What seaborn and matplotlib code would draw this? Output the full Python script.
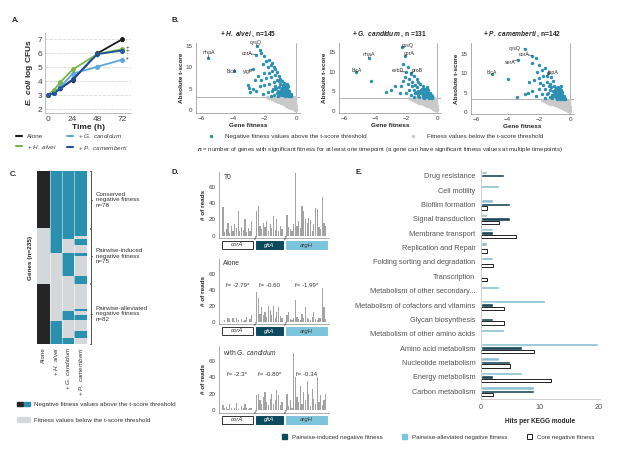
import numpy as np
import pandas as pd
import matplotlib.pyplot as plt
import seaborn as sns
from matplotlib.colors import ListedColormap
from matplotlib.lines import Line2D
from matplotlib.patches import Patch, Rectangle
from matplotlib.legend_handler import HandlerTuple

# ----------------------------- data : A. growth curves -----------------------------
hours = [0, 6, 12, 24, 48, 72]
cfu_alone = [3.05, 3.2, 3.5, 4.1, 6.0, 7.0]
cfu_halvei = [3.05, 3.4, 3.95, 4.85, 5.95, 6.3]
cfu_gcand = [3.05, 3.2, 3.6, 4.55, 5.05, 5.55]
cfu_pcam = [3.05, 3.15, 3.5, 4.15, 5.95, 6.2]
cfu_sd = [0.05, 0.08, 0.1, 0.12, 0.12, 0.1]

# ----------------------------- data : B. volcano-like scatter ----------------------
below_x = [-1.82, -1.61, -1.43, -1.22, -1.01, -0.83, -0.62, -0.41, -0.22, -0.07,
           -1.68, -1.47, -1.26, -1.04, -0.86, -0.64, -0.46, -0.27, -0.11,
           -1.53, -1.33, -1.14, -0.96, -0.74, -0.55, -0.36, -0.16,
           -1.42, -1.21, -1.01, -0.79, -0.61, -0.42, -0.21, -0.06,
           -1.28, -1.08, -0.88, -0.69, -0.48, -0.29, -0.12,
           -1.15, -0.97, -0.78, -0.57, -0.39, -0.19, -0.05,
           -0.93, -0.74, -0.55, -0.36, -0.17, -0.04,
           -0.78, -0.6, -0.41, -0.22, -0.06,
           -0.63, -0.46, -0.29, -0.12, -0.02,
           -0.49, -0.33, -0.18, -0.05,
           -0.36, -0.22, -0.08,
           -0.24, -0.13, -0.03,
           -0.12, -0.04,
           -0.05, -0.01]
below_y = [3.12, 3.05, 3.15, 3.08, 3.13, 3.02, 3.14, 3.07, 3.11, 3.04,
           2.88, 2.82, 2.9, 2.84, 2.79, 2.91, 2.86, 2.81, 2.89,
           2.6, 2.57, 2.64, 2.55, 2.62, 2.58, 2.63, 2.54,
           2.38, 2.33, 2.31, 2.37, 2.29, 2.36, 2.32, 2.4,
           2.12, 2.08, 2.15, 2.05, 2.1, 2.14, 2.07,
           1.88, 1.83, 1.86, 1.8, 1.89, 1.84, 1.9,
           1.62, 1.58, 1.65, 1.56, 1.61, 1.63,
           1.38, 1.33, 1.36, 1.31, 1.37,
           1.12, 1.08, 1.14, 1.06, 1.1,
           0.88, 0.83, 0.86, 0.8,
           0.64, 0.6, 0.58,
           0.45, 0.4, 0.38,
           0.24, 0.2,
           0.1, 0.06]

ha_x = [-5.55, -2.45, -2.55, -3.9, -2.75, -2.3, -2.2, -2.0, -1.9, -1.7, -1.6, -1.5, -1.8, -1.4,
        -2.1, -1.3, -1.2, -1.5, -1.7, -2.0, -2.4, -2.6, -2.2, -1.9, -1.6, -1.3, -1.1, -1.0, -0.9,
        -1.2, -1.4, -1.7, -2.0, -2.3, -2.7, -2.9, -1.0, -0.8, -0.7, -0.9, -1.1, -1.3, -1.5, -1.8,
        -2.1, -0.6, -0.5, -0.7, -0.9, -1.2, -1.0, -0.8, -0.6, -0.45, -1.4, -1.6, -0.55, -0.75,
        -1.05, -0.85, -0.65, -1.15, -0.95, -1.35, -2.5, -3.0, -3.05, -0.35, -0.4, -0.5,
        -0.3, -0.42, -0.52, -0.62, -0.72, -0.82, -0.92, -1.02, -1.12, -0.38, -0.48, -0.58, -0.68,
        -0.78, -0.88, -0.98, -0.55, -0.65, -0.75, -0.85, -0.6, -0.7, -1.25, -1.45, -0.33, -0.45]
ha_y = [12.2, 14.9, 13.0, 9.2, 9.6, 14.0, 13.3, 12.6, 11.5, 11.8, 10.5, 11.0, 10.2, 10.0,
        10.8, 9.6, 9.0, 9.2, 8.6, 8.8, 8.0, 7.2, 7.0, 7.5, 7.8, 8.2, 8.0, 7.4, 6.8,
        7.0, 6.6, 6.2, 6.0, 5.6, 5.0, 4.4, 6.2, 5.9, 5.4, 5.2, 5.5, 5.0, 4.6, 4.2,
        3.8, 4.8, 4.3, 4.0, 4.5, 4.1, 3.8, 3.5, 3.6, 3.4, 3.6, 3.4, 5.0, 6.5,
        6.9, 4.9, 4.4, 4.6, 3.5, 5.6, 4.6, 5.3, 6.0, 3.3, 3.8, 5.6,
        3.3, 3.5, 3.3, 3.8, 3.3, 3.9, 4.0, 4.3, 3.4, 3.6, 4.0, 4.5, 4.7,
        4.2, 3.9, 4.8, 5.3, 5.7, 5.0, 5.6, 6.1, 4.6, 5.3, 4.9, 3.9, 4.6]

gc_x = [-2.25, -2.1, -2.0, -1.7, -4.4, -5.2, -4.23, -2.2, -1.9, -1.7, -1.5, -1.8, -2.1, -1.3,
        -1.2, -1.6, -1.9, -2.3, -2.7, -3.0, -3.3, -2.4, -1.1, -0.9, -1.0, -1.3, -1.5, -1.8, -2.0,
        -0.8, -0.7, -0.9, -1.1, -1.4, -1.7, -0.6, -0.5, -0.7, -0.9, -1.2, -1.5, -0.55, -0.4,
        -0.8, -1.05, -1.25, -0.65, -0.85, -1.4, -1.2, -0.75, -1.6, -2.2, -0.35, -0.45,
        -0.32, -0.44, -0.54, -0.64, -0.74, -0.84, -0.94, -1.04, -1.14, -0.36, -0.5, -0.6, -0.7,
        -0.8, -0.9, -1.0, -0.56, -0.66, -0.78, -0.88, -0.62, -1.3, -1.45, -0.4]
gc_y = [16.2, 14.0, 9.8, 9.6, 13.5, 9.8, 7.5, 12.0, 11.2, 9.4, 8.8, 8.2, 8.6, 8.0,
        7.4, 7.2, 6.8, 6.4, 6.2, 5.3, 4.8, 4.5, 6.8, 6.2, 5.6, 6.0, 5.4, 5.2, 4.6,
        5.2, 4.8, 4.6, 4.9, 4.4, 4.0, 4.2, 3.8, 3.9, 3.6, 3.7, 3.5, 3.4, 3.4,
        4.3, 5.2, 4.2, 4.6, 3.3, 6.6, 5.0, 5.6, 6.4, 7.6, 3.5, 4.6,
        3.3, 3.6, 3.3, 3.7, 3.4, 3.9, 4.1, 4.4, 3.5, 3.7, 4.1, 4.5, 4.3,
        4.0, 3.8, 4.7, 5.4, 5.8, 5.2, 5.6, 6.0, 4.8, 4.4, 4.0]

pc_x = [-2.9, -2.4, -3.3, -5.0, -3.95, -1.5, -2.2, -2.4, -2.0, -1.6, -1.8, -2.1, -1.4, -1.2,
        -1.7, -2.0, -2.3, -2.6, -1.9, -1.5, -1.1, -1.3, -1.0, -0.9, -1.2, -1.6, -2.0, -2.4,
        -2.7, -2.2, -0.8, -0.7, -0.9, -1.1, -1.4, -1.8, -0.6, -0.5, -0.7, -1.0, -1.3, -1.6,
        -0.45, -0.6, -0.85, -1.15, -0.95, -1.35, -0.75, -1.7, -2.9, -3.4, -0.35, -0.5,
        -0.31, -0.43, -0.53, -0.63, -0.73, -0.83, -0.93, -1.03, -1.13, -0.37, -0.49, -0.59, -0.69,
        -0.79, -0.89, -0.99, -0.57, -0.67, -0.77, -0.87, -0.61, -0.71, -1.27, -1.47, -0.41]
pc_y = [16.4, 14.6, 13.6, 9.7, 8.5, 9.4, 14.0, 12.6, 12.2, 11.5, 10.8, 10.4, 10.2, 9.0,
        9.2, 8.8, 8.2, 7.8, 7.4, 7.8, 8.0, 7.2, 6.8, 6.2, 6.4, 6.0, 5.8, 5.4,
        5.0, 4.2, 5.8, 5.2, 5.0, 5.4, 5.0, 4.6, 4.6, 4.0, 4.2, 4.0, 3.8, 3.6,
        3.5, 3.4, 3.5, 4.4, 5.7, 6.7, 6.4, 7.0, 4.5, 3.8, 3.4, 5.2,
        3.4, 3.3, 3.6, 3.3, 3.7, 3.4, 4.2, 4.6, 3.5, 3.8, 4.4, 4.9, 4.6,
        4.3, 3.9, 5.2, 5.6, 6.0, 5.3, 6.1, 6.6, 4.9, 5.6, 4.7, 4.1]

# gene name, point it refers to, label position
genes_ha = [('nhaA', (-5.55, 12.2), (-5.5, 13.5)), ('cysQ', (-2.45, 14.9), (-2.55, 15.9)),
            ('corA', (-2.55, 13.0), (-3.1, 13.3)), ('ldcA', (-3.9, 9.2), (-4.05, 9.1)),
            ('yigP', (-2.75, 9.6), (-3.05, 9.0))]
genes_gc = [('nhaA', (-4.4, 13.5), (-4.4, 14.4)), ('ldcA', (-5.2, 9.8), (-5.2, 10.3)),
            ('cysQ', (-2.25, 16.2), (-1.9, 16.6)), ('corA', (-2.1, 14.0), (-1.8, 14.5)),
            ('exbD', (-2.0, 9.8), (-2.5, 10.3)), ('proB', (-1.7, 9.6), (-1.3, 10.3))]
genes_pc = [('cysQ', (-2.9, 16.4), (-3.55, 16.4)), ('corA', (-2.4, 14.6), (-2.9, 15.0)),
            ('serA', (-3.3, 13.6), (-3.8, 12.9)), ('ldcA', (-5.0, 9.7), (-5.0, 10.3)),
            ('fepA', (-1.5, 9.4), (-1.1, 10.3))]

# ----------------------------- data : C. heatmap -----------------------------------
hm_labels = ['Alone', r'+ $\mathit{H.\ alvei}$', r'+ $\mathit{G.\ candidum}$', r'+ $\mathit{P.\ camemberti}$']
n_genes = 235
group_names = ['Conserved\nnegative fitness\nn=78', 'Pairwise-induced\nnegative fitness\nn=75',
               'Pairwise-alleviated\nnegative fitness\nn=82']
group_sizes = [78, 75, 82]
runs_alone = [(0, 78), (153, 235)]
runs_halvei = [(0, 112), (204, 235)]
runs_gcand = [(0, 93), (112, 142), (190, 203), (227, 235)]
runs_pcam = [(0, 88), (93, 100), (112, 116), (142, 153), (188, 190), (195, 203), (217, 227)]

# ----------------------------- data : D. read counts -------------------------------
d_genes = ['corA', 'gltA', 'argH']
t0_corA = [35, 4, 8, 15, 3, 12, 6, 14, 9, 30, 5, 10, 7, 20, 4, 9, 6, 18]
t0_gltA = [30, 36, 12, 8, 15, 10, 18, 6, 14, 9, 24, 7, 20, 5, 12, 8]
t0_argH = [25, 10, 8, 6, 14, 77, 12, 18, 9, 36, 30, 20, 15, 22, 19, 6, 14, 34, 33, 10, 8, 47, 16, 12]
al_corA = [0, 2, 0, 4, 3, 0, 5, 1, 4, 2, 0, 3, 1, 2, 6, 0, 3, 8]
al_gltA = [37, 30, 10, 18, 8, 12, 6, 20, 15, 9, 20, 5, 12, 18, 7, 4]
al_argH = [8, 12, 3, 2, 4, 28, 6, 3, 2, 10, 4, 18, 5, 3, 2, 6, 12, 3, 2, 5, 4, 42, 18, 3]
gc_corA = [6, 2, 4, 1, 8, 2, 0, 3, 9, 1, 0, 5, 2, 7, 3, 1, 2, 2]
gc_gltA = [18, 20, 12, 8, 16, 22, 10, 6, 14, 20, 8, 12, 24, 18, 6, 10]
gc_argH = [20, 5, 12, 3, 70, 40, 16, 10, 30, 8, 22, 12, 36, 20, 5, 26, 14, 8, 40, 10, 18, 6, 12, 20]
fit_alone = ['f= -2.79*', 'f= -0.60', 'f= -1.99*']
fit_gcand = ['f= -2.3*', 'f= -0.80*', 'f= -0.34']

# ----------------------------- data : E. KEGG modules ------------------------------
modules = ['Drug resistance', 'Cell motility', 'Biofilm formation', 'Signal transduction',
           'Membrane transport', 'Replication and Repair', 'Folding sorting and degradation',
           'Transcription', 'Metabolism of other secondary...', 'Metabolism of cofactors and vitamins',
           'Glycan biosynthesis', 'Metabolism of other amino acids', 'Amino acid metabolism',
           'Nucleotide metabolism', 'Energy metabolism', 'Carbon metabolism']
hits_alleviated = [1, 3, 2, 1, 2, 1, 2, 0, 3, 11, 0, 4, 20, 3, 7, 9]
hits_induced = [4, 0, 5, 5, 2, 0, 0, 0, 0, 2, 2, 0, 7, 5, 2, 9]
hits_core = [0, 0, 1, 3, 6, 1, 2, 1, 0, 4, 4, 0, 9, 5, 12, 2]

# ----------------------------- styling ---------------------------------------------
sns.set_theme(style='white')
plt.rcParams['font.family'] = ['Liberation Sans', 'DejaVu Sans']
plt.rcParams['mathtext.fontset'] = 'custom'
plt.rcParams['mathtext.rm'] = 'Liberation Sans'
plt.rcParams['mathtext.it'] = 'Liberation Sans:italic'
plt.rcParams['mathtext.bf'] = 'Liberation Sans:bold'
plt.rcParams['mathtext.bfit'] = 'Liberation Sans:italic:bold'

BLUE = '#2C8FB4'
GREY = '#C9C9C9'
TEAL = '#2A90AE'
BLACK = '#252525'
HMGREY = '#D5D8DA'
DARK = '#0E4A5F'
LIGHT = '#7CC4DC'
TXT = '#404040'
SP = '#8C8C8C'

W, H = 617, 453
fig = plt.figure(figsize=(6.17, 4.53), dpi=100)


def box(l, t, r, b):
    return [l / W, 1 - b / H, (r - l) / W, (b - t) / H]


def fx(x):
    return x / W


def fy(y):
    return 1 - y / H


for lab, (x, y) in zip(['A.', 'B.', 'C.', 'D.', 'E.'],
                       [(12, 21), (172, 20), (10, 174), (172, 172), (356, 172)]):
    fig.text(fx(x), fy(y), lab, fontsize=5.5, fontweight='bold', va='center')

# ----------------------------- A ---------------------------------------------------
axA = fig.add_axes(box(45, 33, 131, 113))
conds = ['Alone', '+ H. alvei', '+ G. candidum', '+ P. camemberti']
cols_A = ['#1A1A1A', '#7AB648', '#5AA5DA', '#1F4E9A']
dfA = pd.DataFrame({'time': hours * 4,
                    'cfu': cfu_alone + cfu_halvei + cfu_gcand + cfu_pcam,
                    'cond': np.repeat(conds, len(hours))})
sns.lineplot(data=dfA, x='time', y='cfu', hue='cond', hue_order=conds, palette=cols_A,
             marker='o', markersize=3.5, markeredgewidth=0, linewidth=1.3, legend=False, ax=axA)
for vals, c in zip([cfu_alone, cfu_halvei, cfu_gcand, cfu_pcam], cols_A):
    axA.errorbar(hours, vals, yerr=cfu_sd, fmt='none', ecolor=c, elinewidth=0.5, capsize=1)
axA.set_xlim(-2.9, 80.6)
axA.set_ylim(1.75, 7.45)
axA.set_xticks([0, 24, 48, 72])
axA.set_yticks([2, 3, 4, 5, 6, 7])
axA.yaxis.grid(True, ls='--', color='#D9D9D9', lw=0.6)
axA.tick_params(labelsize=6, colors=TXT, length=0, pad=2)
axA.set_xlabel('Time (h)', fontsize=6, fontweight='bold', labelpad=1)
axA.set_ylabel(r'$\mathbfit{E.\ coli}$ log CFUs', fontsize=6, fontweight='bold', labelpad=2)
for s in ['top', 'right']:
    axA.spines[s].set_visible(False)
for s in ['left', 'bottom']:
    axA.spines[s].set_color('#BFBFBF')
    axA.spines[s].set_linewidth(0.7)
axA.text(75.5, 6.3, '‡', fontsize=5, va='center', color=TXT)
axA.text(75.5, 5.5, '*', fontsize=5, va='center', color=TXT)
hA = [Line2D([], [], color=c, lw=1.5) for c in cols_A]
labA = ['Alone', r'+ $\mathit{H.\ alvei}$', r'+ $\mathit{G.\ candidum}$', r'+ $\mathit{P.\ camemberti}$']
fig.legend(hA, labA, ncol=2, loc='center', bbox_to_anchor=(fx(72), fy(142)), frameon=False,
           fontsize=4.6, handlelength=1.0, handletextpad=0.8, columnspacing=1.5, labelspacing=0.5,
           labelcolor=TXT)

# ----------------------------- B ---------------------------------------------------
def scatter_panel(rect, bx, by, genes, title, ytop):
    ax = fig.add_axes(box(*rect))
    sns.scatterplot(x=below_x, y=below_y, color=GREY, s=6, linewidth=0, ax=ax)
    sns.scatterplot(x=bx, y=by, color=BLUE, s=6, linewidth=0, ax=ax)
    ax.axhline(3.2, color='#B3B3B3', lw=0.7, zorder=0)
    ax.axvline(0, color='#B3B3B3', lw=0.7, zorder=0)
    for name, pt, tp in genes:
        ax.annotate(name, xy=pt, xytext=tp, fontsize=3.8, color='#333333', ha='center', va='center',
                    annotation_clip=False,
                    arrowprops=dict(arrowstyle='-', lw=0.4, color='#333333', shrinkA=1.5, shrinkB=0))
    ax.set_xlim(-6.32, 0.25)
    ax.set_ylim(-0.6, ytop)
    ax.set_xticks([-6, -4, -2, 0])
    ax.set_yticks([0, 5, 10, 15])
    ax.tick_params(labelsize=4.5, colors=TXT, length=1.5, width=0.5, pad=1)
    ax.set_xlabel('Gene fitness', fontsize=4.6, fontweight='bold', labelpad=1)
    ax.set_ylabel('Absolute t-score', fontsize=4.6, fontweight='bold', labelpad=1)
    for s in ['top', 'right']:
        ax.spines[s].set_visible(False)
    for s in ['left', 'bottom']:
        ax.spines[s].set_color(SP)
        ax.spines[s].set_linewidth(0.5)
    ax.set_title(title, fontsize=4.8, fontweight='bold', pad=5)
    return ax


scatter_panel((196, 43, 300, 113), ha_x, ha_y, genes_ha, r'+ $\mathbfit{H.\ alvei}$ , n=145', 15.7)
scatter_panel((339, 43, 441, 113), gc_x, gc_y, genes_gc, r'+ $\mathbfit{G.\ candidum}$ , n =131', 17.3)
scatter_panel((471, 43, 574, 114), pc_x, pc_y, genes_pc, r'+ $\mathbfit{P.\ camemberti}$ , n=142', 17.9)

hB = [Line2D([], [], marker='o', ls='', color=BLUE, markersize=2.5, markeredgewidth=0),
      Line2D([], [], marker='o', ls='', color=GREY, markersize=2.5, markeredgewidth=0)]
fig.legend(hB, ['Negative fitness values above the t-score threshold',
                'Fitness values below the t-score threshold'],
           ncol=2, loc='center', bbox_to_anchor=(fx(374), fy(136)), frameon=False, fontsize=4.5,
           handletextpad=1.2, columnspacing=6.5, labelcolor='#333333')
fig.text(fx(197), fy(150), r'$\mathbfit{n}$ = number of genes with significant fitness for at least one '
         'timepoint (a gene can have significant fitness values at multiple timepoints)',
         fontsize=4.45, va='center', color='#333333')

# ----------------------------- C ---------------------------------------------------
axC = fig.add_axes(box(37, 171, 87, 344))
mat = np.zeros((n_genes, 4))
for j, runs in enumerate([runs_alone, runs_halvei, runs_gcand, runs_pcam]):
    for a, b in runs:
        mat[a:b, j] = 2 if j == 0 else 1
sns.heatmap(mat, cmap=ListedColormap([HMGREY, TEAL, BLACK]), vmin=-0.5, vmax=2.5, cbar=False,
            xticklabels=hm_labels, yticklabels=False, ax=axC)
for xv in [1, 2, 3]:
    axC.axvline(xv, color='white', lw=0.5, alpha=0.7)
axC.set_xticklabels(hm_labels, rotation=90, fontsize=4.5, color='#333333', va='top', ha='center')
axC.tick_params(axis='x', length=0, pad=2)
axC.set_ylabel('Genes (n=235)', fontsize=4.6, fontweight='bold', labelpad=3)
start = 0
for name, n in zip(group_names, group_sizes):
    end = start + n
    mid = (start + end) / 2
    axC.plot([4.22, 4.3, 4.3, 4.22], [start + 0.6, start + 0.6, end - 0.6, end - 0.6],
             color='#333333', lw=0.6, clip_on=False)
    axC.plot([4.3, 4.4], [mid, mid], color='#333333', lw=0.6, clip_on=False)
    axC.text(4.7, mid, name, fontsize=4.5, va='center', ha='left', color='#333333', linespacing=1.15)
    start = end
hC = [(Patch(color=BLACK), Patch(color=TEAL)), Patch(color=HMGREY)]
fig.legend(hC, ['Negative fitness values above the t-score threshold',
                'Fitness values below the t-score threshold'],
           handler_map={tuple: HandlerTuple(ndivide=None, pad=0.2)},
           loc='upper left', bbox_to_anchor=(fx(11), fy(396)), frameon=False, fontsize=4.5,
           handlelength=2.2, handleheight=0.8, handletextpad=0.5, labelspacing=1.6, labelcolor='#333333')

# ----------------------------- D ---------------------------------------------------
gene_cols = ['white', DARK, LIGHT]
gene_txt = ['#333333', 'white', '#333333']


def reads_panel(rect, c, g, a, label, fits, ylim_top, yfit):
    ax = fig.add_axes(box(*rect))
    axh = rect[3] - rect[1]
    offs = [0, len(c) + 2, len(c) + len(g) + 4]
    pos = list(np.arange(len(c)) + offs[0]) + list(np.arange(len(g)) + offs[1]) + \
        list(np.arange(len(a)) + offs[2])
    sns.histplot(x=pos, weights=c + g + a, discrete=True, shrink=0.75, color='#A3A3A3',
                 alpha=1, linewidth=0, ax=ax)
    ax.set_xlim(-2.4, offs[2] + len(a) + 1.0)
    ax.set_ylim(-3, ylim_top)
    ax.set_yticks([0, 20, 40, 60])
    ax.set_xticks([])
    ax.tick_params(axis='y', labelsize=4.5, colors=TXT, length=1.5, width=0.5, pad=1)
    ax.set_ylabel('# of reads', fontsize=4.6, fontweight='bold', labelpad=2)
    for s in ['top', 'right']:
        ax.spines[s].set_visible(False)
    for s in ['left', 'bottom']:
        ax.spines[s].set_color(SP)
        ax.spines[s].set_linewidth(0.5)
    tr = ax.get_xaxis_transform()
    for k, (name, n) in enumerate(zip(d_genes, [len(c), len(g), len(a)])):
        x0 = offs[k] - 0.6
        ax.add_patch(Rectangle((x0, -11 / axh), n + 0.2, 8 / axh, transform=tr, clip_on=False,
                               facecolor=gene_cols[k], edgecolor='#333333' if k == 0 else gene_cols[k],
                               lw=0.7))
        ax.text(x0 + (n + 0.2) / 2, -7 / axh, name, transform=tr, fontsize=4.3, style='italic',
                ha='center', va='center', color=gene_txt[k])
        if fits:
            ax.text(x0 + (n + 0.2) / 2, yfit, fits[k], fontsize=4.4, ha='center', va='center',
                    color='#333333')
    for k in [1, 2]:
        ax.text(offs[k] - 1.2, 0, '//', transform=tr, fontsize=4.5, ha='center', va='center',
                style='italic', color='#333333')
    ax.text(0.04, 0.97, label, transform=ax.transAxes, fontsize=4.8, va='top', ha='left', color='#333333')
    return ax


reads_panel((219, 172, 329, 238), t0_corA, t0_gltA, t0_argH, 'T0', None, 78, 0)
reads_panel((219, 258.5, 329, 324), al_corA, al_gltA, al_argH, 'Alone', fit_alone, 80, 46)
reads_panel((219, 345.5, 329, 412.5), gc_corA, gc_gltA, gc_argH, r'with $\mathit{G.\ candidum}$',
            fit_gcand, 79, 44)

# ----------------------------- E ---------------------------------------------------
axE = fig.add_axes(box(481, 168.5, 600, 398.5))
types = ['Pairwise-alleviated negative fitness', 'Pairwise-induced negative fitness', 'Core negative fitness']
dfE = pd.DataFrame({'module': modules * 3,
                    'hits': hits_alleviated + hits_induced + hits_core,
                    'type': np.repeat(types, len(modules))})
sns.barplot(data=dfE, y='module', x='hits', hue='type', hue_order=types, order=modules,
            palette=[LIGHT, DARK, 'white'], orient='h', width=0.72, legend=False, ax=axE)
for p in axE.containers[2]:
    if p.get_width() > 0:
        p.set_edgecolor('#222222')
        p.set_linewidth(0.7)
    else:
        p.set_visible(False)
axE.set_xlim(0, 20.3)
axE.set_xticks([0, 10, 20])
axE.tick_params(axis='y', labelsize=5.3, colors='#555555', length=0, pad=4)
axE.tick_params(axis='x', labelsize=5.3, colors='#555555', length=0, pad=4)
axE.set_ylabel('')
axE.set_xlabel('Hits per KEGG module', fontsize=4.7, fontweight='bold', labelpad=5)
for s in ['top', 'right']:
    axE.spines[s].set_visible(False)
for s in ['left', 'bottom']:
    axE.spines[s].set_color('#C8C8C8')
    axE.spines[s].set_linewidth(0.6)

hE = [Patch(color=DARK), Patch(color=LIGHT), Patch(facecolor='white', edgecolor='#222222', lw=0.7)]
fig.legend(hE, ['Pairwise-induced negative fitness', 'Pairwise-alleviated negative fitness',
                'Core negative fitness'],
           ncol=3, loc='center', bbox_to_anchor=(fx(438), fy(437)), frameon=False, fontsize=4.4,
           handlelength=0.8, handleheight=0.8, handletextpad=0.8, columnspacing=3.2, labelcolor='#333333')

fig.savefig('out.png', dpi=100)
